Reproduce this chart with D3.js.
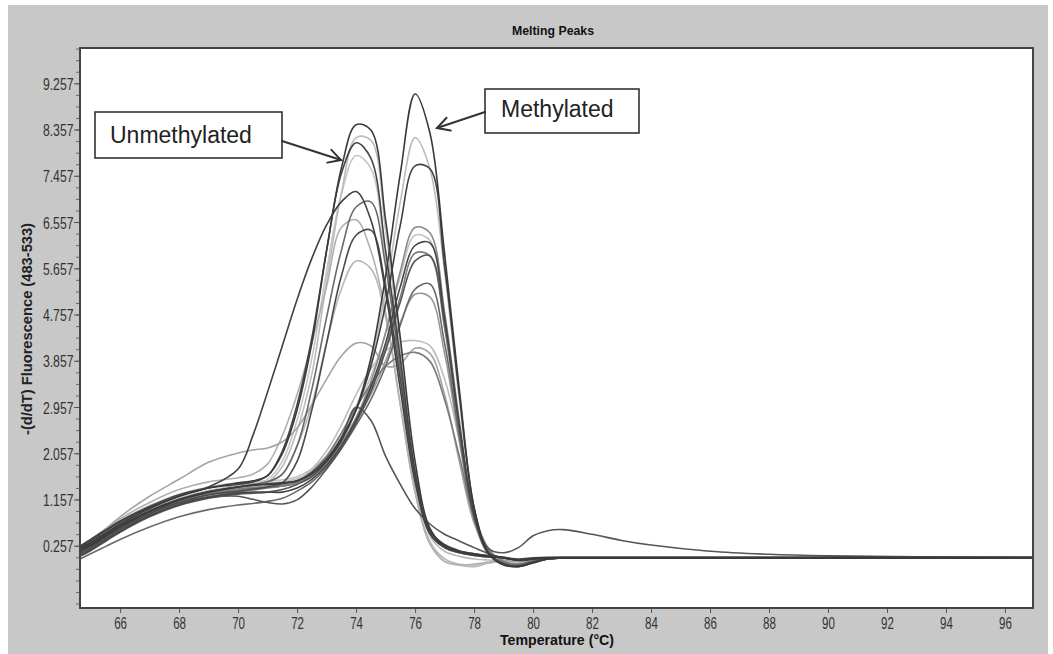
<!DOCTYPE html>
<html><head><meta charset="utf-8">
<script src="https://cdn.jsdelivr.net/npm/d3@7"></script>
<style>body{margin:0;background:#fff;} svg{display:block;}</style>
</head><body><svg id="c" width="1053" height="654"></svg>
<script>
// ---------- data ----------
const temps = [64.64,65,65.5,66,67,68,69,70,70.5,71,71.5,72,
  72.5,73,73.5,74,74.5,75,75.5,76,76.5,
  77,77.5,78,78.5,79,79.5,80,80.5,81,82,83,84,86,88,90,93,96.95];

const xTickValues = [66,68,70,72,74,76,78,80,82,84,86,88,90,92,94,96];
const yTickValues = [0.257,1.157,2.057,2.957,3.857,4.757,5.657,6.557,7.457,8.357,9.257];
const yTickLabels = ["0.257","1.157","2.057","2.957","3.857","4.757","5.657","6.557","7.457","8.357","9.257"];

const titleText = "Melting Peaks";
const xLabel = "Temperature (°C)";
const yLabel = "-(d/dT) Fluorescence (483-533)";
const noteUnmeth = "Unmethylated";
const noteMeth = "Methylated";

// unmethylated-type curves (peak near 74 °C)
const U1 = [0.20,0.32,0.50,0.68,0.98,1.22,1.38,1.48,1.52,1.62,2.05,2.9, 4.2,6.0,7.6,8.45,8.35,6.6,4.3,1.9,0.6, 0.25,0.14,0.08,0.05,0.02,-0.03,0.0,0.02,0.02,0.02,0.02,0.02,0.02,0.02,0.02,0.02,0.02];
const U2 = [0.12,0.25,0.44,0.62,0.92,1.15,1.30,1.40,1.44,1.50,1.80,2.5, 3.6,5.4,7.1,8.2,8.15,6.4,4.1,1.7,0.45, 0.15,0.05,0.0,-0.02,-0.03,-0.05,-0.02,0.0,0.02,0.02,0.02,0.02,0.02,0.02,0.02,0.02,0.02];
const U3 = [0.25,0.38,0.56,0.74,1.02,1.25,1.38,1.45,1.50,1.62,2.1,3.0, 4.3,6.0,7.5,8.1,7.8,6.0,3.9,1.7,0.55, 0.28,0.16,0.10,0.06,0.03,-0.02,0.0,0.02,0.03,0.03,0.03,0.03,0.03,0.03,0.03,0.03,0.03];
const U4 = [0.18,0.30,0.48,0.66,0.95,1.18,1.32,1.40,1.45,1.55,1.9,2.7, 3.9,5.6,7.1,7.85,7.6,5.8,3.6,1.4,0.35, 0.0,-0.1,-0.12,-0.08,-0.05,-0.04,0.0,0.02,0.02,0.02,0.02,0.02,0.02,0.02,0.02,0.02,0.02];
const U5 = [0.22,0.35,0.54,0.72,1.00,1.22,1.40,1.75,2.4,3.25,4.15,5.05, 5.85,6.5,6.95,7.15,6.6,5.2,3.3,1.5,0.5, 0.25,0.15,0.1,0.06,0.03,0.0,0.02,0.03,0.03,0.03,0.03,0.03,0.03,0.03,0.03,0.03,0.03];
const U6 = [0.15,0.27,0.45,0.63,0.93,1.15,1.30,1.40,1.45,1.50,1.65,2.2, 3.3,4.7,6.0,6.85,6.95,5.7,3.7,1.7,0.5, 0.22,0.12,0.07,0.04,0.02,-0.02,0.0,0.02,0.02,0.02,0.02,0.02,0.02,0.02,0.02,0.02,0.02];
const U7 = [0.25,0.38,0.58,0.78,1.10,1.35,1.50,1.58,1.65,1.85,2.4,3.2, 4.2,5.3,6.45,6.6,6.0,4.8,3.0,1.3,0.3, -0.05,-0.12,-0.1,-0.06,-0.03,-0.02,0.0,0.02,0.02,0.02,0.02,0.02,0.02,0.02,0.02,0.02,0.02];
const U8 = [0.10,0.22,0.40,0.58,0.88,1.10,1.25,1.32,1.36,1.40,1.48,1.9, 2.9,4.2,5.5,6.3,6.4,5.3,3.5,1.6,0.5, 0.22,0.12,0.07,0.04,0.02,-0.02,0.0,0.02,0.02,0.02,0.02,0.02,0.02,0.02,0.02,0.02,0.02];
const U9 = [0.15,0.27,0.45,0.64,0.94,1.16,1.30,1.38,1.42,1.48,1.65,2.2, 3.0,4.2,5.25,5.8,5.65,4.7,3.0,1.3,0.3, 0.0,-0.12,-0.15,-0.08,-0.04,-0.03,0.0,0.02,0.02,0.02,0.02,0.02,0.02,0.02,0.02,0.02,0.02];
const U10 = [0.05,0.16,0.34,0.52,0.82,1.04,1.18,1.26,1.28,1.30,1.35,1.45, 1.6,1.9,2.35,2.95,2.7,2.0,1.45,0.98,0.68, 0.48,0.35,0.22,0.1,0.02,-0.02,0.0,0.02,0.02,0.02,0.02,0.02,0.02,0.02,0.02,0.02,0.02];
// mixed curves
const X1 = [0.22,0.36,0.58,0.82,1.22,1.55,1.88,2.06,2.12,2.16,2.28,2.55, 3.0,3.5,3.95,4.2,4.15,3.75,3.8,4.1,4.0, 3.2,1.9,0.7,0.15,-0.02,-0.05,0.0,0.02,0.02,0.02,0.02,0.02,0.02,0.02,0.02,0.02,0.02];
const X2 = [0.12,0.24,0.42,0.60,0.90,1.12,1.26,1.34,1.38,1.42,1.45,1.52, 1.75,2.1,2.6,3.2,3.7,4.05,4.22,4.25,4.15, 3.5,2.3,0.9,0.2,-0.05,-0.08,-0.02,0.02,0.02,0.02,0.02,0.02,0.02,0.02,0.02,0.02,0.02];
const X3 = [0.08,0.2,0.38,0.56,0.86,1.08,1.22,1.30,1.34,1.38,1.42,1.5, 1.7,2.0,2.45,2.95,3.4,3.75,3.95,4.02,3.85, 3.1,2.0,0.8,0.18,-0.05,-0.1,-0.03,0.02,0.02,0.02,0.02,0.02,0.02,0.02,0.02,0.02,0.02];
// methylated-type curves (peak near 76 °C)
const M1 = [0.14,0.26,0.44,0.62,0.92,1.14,1.30,1.40,1.44,1.46,1.48,1.52, 1.65,1.9,2.3,2.9,3.9,5.5,7.5,9.05,8.3, 5.95,3.3,1.0,0.1,-0.12,-0.15,-0.08,0.0,0.02,0.02,0.02,0.02,0.02,0.02,0.02,0.02,0.02];
const M2 = [0.20,0.32,0.50,0.68,0.97,1.18,1.33,1.42,1.46,1.48,1.50,1.56, 1.7,1.95,2.35,2.95,3.85,5.2,6.95,8.2,7.6, 5.6,3.1,0.95,0.1,-0.1,-0.12,-0.05,0.0,0.02,0.02,0.02,0.02,0.02,0.02,0.02,0.02,0.02];
const M3 = [0.17,0.29,0.47,0.65,0.94,1.16,1.31,1.40,1.43,1.45,1.47,1.52, 1.68,1.95,2.35,2.9,3.75,4.95,6.5,7.65,7.6, 5.7,3.2,1.0,0.12,-0.1,-0.14,-0.06,0.0,0.02,0.02,0.02,0.02,0.02,0.02,0.02,0.02,0.02];
const M4 = [0.10,0.22,0.40,0.58,0.88,1.10,1.25,1.35,1.38,1.40,1.42,1.48, 1.62,1.88,2.25,2.75,3.45,4.4,5.6,6.45,6.35, 4.8,2.7,0.85,0.1,-0.1,-0.14,-0.06,0.0,0.02,0.02,0.02,0.02,0.02,0.02,0.02,0.02,0.02];
const M5 = [0.24,0.36,0.55,0.74,1.04,1.26,1.40,1.48,1.50,1.52,1.54,1.6, 1.75,2.0,2.4,2.9,3.55,4.4,5.5,6.3,6.2, 4.7,2.6,0.8,0.08,-0.1,-0.12,-0.05,0.0,0.02,0.02,0.02,0.02,0.02,0.02,0.02,0.02,0.02];
const M6 = [0.06,0.18,0.36,0.54,0.84,1.06,1.20,1.28,1.30,1.30,1.30,1.38, 1.55,1.82,2.2,2.7,3.35,4.2,5.3,6.1,6.15, 4.7,2.6,0.85,0.1,-0.1,-0.15,-0.07,0.0,0.02,0.02,0.02,0.02,0.02,0.02,0.02,0.02,0.02];
const M7 = [0.16,0.28,0.46,0.64,0.93,1.14,1.28,1.36,1.38,1.40,1.42,1.48, 1.6,1.85,2.2,2.7,3.3,4.1,5.1,5.95,5.9, 4.5,2.5,0.8,0.1,-0.08,-0.12,-0.05,0.0,0.02,0.02,0.02,0.02,0.02,0.02,0.02,0.02,0.02];
const M8 = [0.15,0.26,0.44,0.62,0.92,1.10,1.20,1.22,1.16,1.10,1.07,1.15, 1.4,1.75,2.15,2.65,3.25,4.05,5.0,5.8,5.9, 4.6,2.6,0.9,0.2,0.12,0.22,0.45,0.55,0.57,0.48,0.36,0.27,0.15,0.09,0.06,0.04,0.03];
const M9 = [0.0,0.1,0.24,0.38,0.62,0.82,0.96,1.05,1.08,1.12,1.18,1.32, 1.5,1.78,2.15,2.6,3.1,3.75,4.55,5.25,5.35, 4.2,2.4,0.8,0.1,-0.08,-0.12,-0.05,0.0,0.02,0.02,0.02,0.02,0.02,0.02,0.02,0.02,0.02];
const M10 = [0.12,0.24,0.42,0.60,0.90,1.12,1.27,1.36,1.39,1.42,1.45,1.52, 1.65,1.9,2.25,2.7,3.2,3.85,4.6,5.15,5.1, 4.0,2.3,0.75,0.08,-0.08,-0.12,-0.05,0.0,0.02,0.02,0.02,0.02,0.02,0.02,0.02,0.02,0.02];

const seriesList = [
  ["U1",U1],["U2",U2],["U3",U3],["U4",U4],["U5",U5],["U6",U6],["U7",U7],["U8",U8],["U9",U9],["U10",U10],
  ["X1",X1],["X2",X2],["X3",X3],
  ["M1",M1],["M2",M2],["M3",M3],["M4",M4],["M5",M5],["M6",M6],["M7",M7],["M8",M8],["M9",M9],["M10",M10]
];

// ---------- styles ----------
const curveColor = {
  U1:"#3a3a3a",U2:"#bcbcbc",U3:"#454545",U4:"#c6c6c6",U5:"#404040",U6:"#6a6a6a",U7:"#b0b0b0",U8:"#4a4a4a",U9:"#b8b8b8",U10:"#555555",
  X1:"#a4a4a4",X2:"#bdbdbd",X3:"#7a7a7a",
  M1:"#3a3a3a",M2:"#bdbdbd",M3:"#404040",M4:"#8a8a8a",M5:"#c2c2c2",M6:"#454545",M7:"#7e7e7e",M8:"#555555",M9:"#6a6a6a",M10:"#999999"
};
const FONT = "'Liberation Sans', Arial, sans-serif";

const svg = d3.select("#c");
svg.append("rect").attr("x",8).attr("y",5).attr("width",1040).attr("height",649).attr("fill","#c8c8c8");

const P = {l:80, r:1033, t:48, b:608};
svg.append("rect").attr("x",P.l).attr("y",P.t).attr("width",P.r-P.l).attr("height",P.b-P.t).attr("fill","#fff");

const x = d3.scaleLinear().domain([64.64, 96.95]).range([P.l, P.r]);
const y = d3.scaleLinear().domain([-0.955, 9.944]).range([P.b, P.t]);

svg.append("clipPath").attr("id","clip").append("rect")
  .attr("x",P.l).attr("y",P.t).attr("width",P.r-P.l).attr("height",P.b-P.t);

const lum = c => d3.hsl(c).l;
const ordered = seriesList.slice().sort((a,b)=> lum(curveColor[b[0]]) - lum(curveColor[a[0]]));

const line = d3.line().x((d,i)=>x(temps[i])).y(d=>y(d)).curve(d3.curveCatmullRom.alpha(0.5));
svg.append("g").attr("clip-path","url(#clip)")
  .selectAll("path").data(ordered).join("path")
  .attr("d", d=>line(d[1]))
  .attr("fill","none")
  .attr("stroke", d=>curveColor[d[0]])
  .attr("stroke-width",1.6)
  .attr("stroke-linejoin","round");

svg.append("rect").attr("x",P.l).attr("y",P.t).attr("width",P.r-P.l).attr("height",P.b-P.t)
  .attr("fill","none").attr("stroke","#444").attr("stroke-width",2);

const gx = svg.append("g").attr("transform",`translate(0,${P.b+1})`)
  .call(d3.axisBottom(x).tickValues(xTickValues).tickSize(4).tickSizeOuter(0));
gx.select(".domain").remove();
gx.selectAll("line").attr("stroke","#555");
gx.selectAll("text").attr("y",20).attr("dy",null).attr("transform","scale(0.68,1)")
  .attr("fill","#333").style("font-family",FONT).style("font-size","17px");

const minorVals = d3.range(0.257-0.225*5, 9.944, 0.225);
const gym = svg.append("g").attr("transform",`translate(${P.l-1},0)`)
  .call(d3.axisLeft(y).tickValues(minorVals).tickSize(3).tickSizeOuter(0).tickFormat(""));
gym.select(".domain").remove();
gym.selectAll("line").attr("stroke","#666");

const gy = svg.append("g").attr("transform",`translate(${P.l-1},0)`)
  .call(d3.axisLeft(y).tickValues(yTickValues).tickFormat((d,i)=>yTickLabels[i]).tickSize(5).tickSizeOuter(0));
gy.select(".domain").remove();
gy.selectAll("line").attr("stroke","#555");
gy.selectAll("text").attr("x",-5.5/0.72).attr("dy","0.36em").attr("transform","scale(0.72,1)")
  .attr("fill","#333").style("font-family",FONT).style("font-size","17px");

svg.append("text").attr("x",553).attr("y",35).attr("text-anchor","middle")
  .style("font-family",FONT).style("font-weight","bold").style("font-size","13px")
  .attr("textLength",82).attr("lengthAdjust","spacingAndGlyphs").attr("fill","#111").text(titleText);
svg.append("text").attr("x",557).attr("y",645).attr("text-anchor","middle")
  .style("font-family",FONT).style("font-weight","bold").style("font-size","15px")
  .attr("textLength",114).attr("lengthAdjust","spacingAndGlyphs").attr("fill","#111").text(xLabel);
svg.append("text").attr("transform","translate(32,329) rotate(-90)").attr("text-anchor","middle")
  .style("font-family",FONT).style("font-weight","bold").style("font-size","14px")
  .attr("textLength",212).attr("lengthAdjust","spacingAndGlyphs").attr("fill","#222").text(yLabel);

function arrow(x1,y1,x2,y2){
  const g = svg.append("g").attr("stroke","#333").attr("stroke-width",2).attr("fill","none").attr("stroke-linecap","round");
  g.append("line").attr("x1",x1).attr("y1",y1).attr("x2",x2).attr("y2",y2);
  const a = Math.atan2(y2-y1, x2-x1), L = 14, s = 0.5;
  g.append("path").attr("d",
    `M${x2-L*Math.cos(a-s)},${y2-L*Math.sin(a-s)}L${x2},${y2}L${x2-L*Math.cos(a+s)},${y2-L*Math.sin(a+s)}`);
}
svg.append("rect").attr("x",95).attr("y",112).attr("width",187).attr("height",46)
  .attr("fill","#fff").attr("stroke","#333").attr("stroke-width",1.6);
svg.append("text").attr("x",110).attr("y",143).style("font-family",FONT).style("font-size","23px")
  .attr("fill","#222").text(noteUnmeth);
arrow(282,141,341,160);
svg.append("rect").attr("x",485).attr("y",89).attr("width",154).attr("height",44)
  .attr("fill","#fff").attr("stroke","#333").attr("stroke-width",1.6);
svg.append("text").attr("x",501).attr("y",117).style("font-family",FONT).style("font-size","23px")
  .attr("fill","#222").text(noteMeth);
arrow(485,112,437,128);
</script></body></html>
